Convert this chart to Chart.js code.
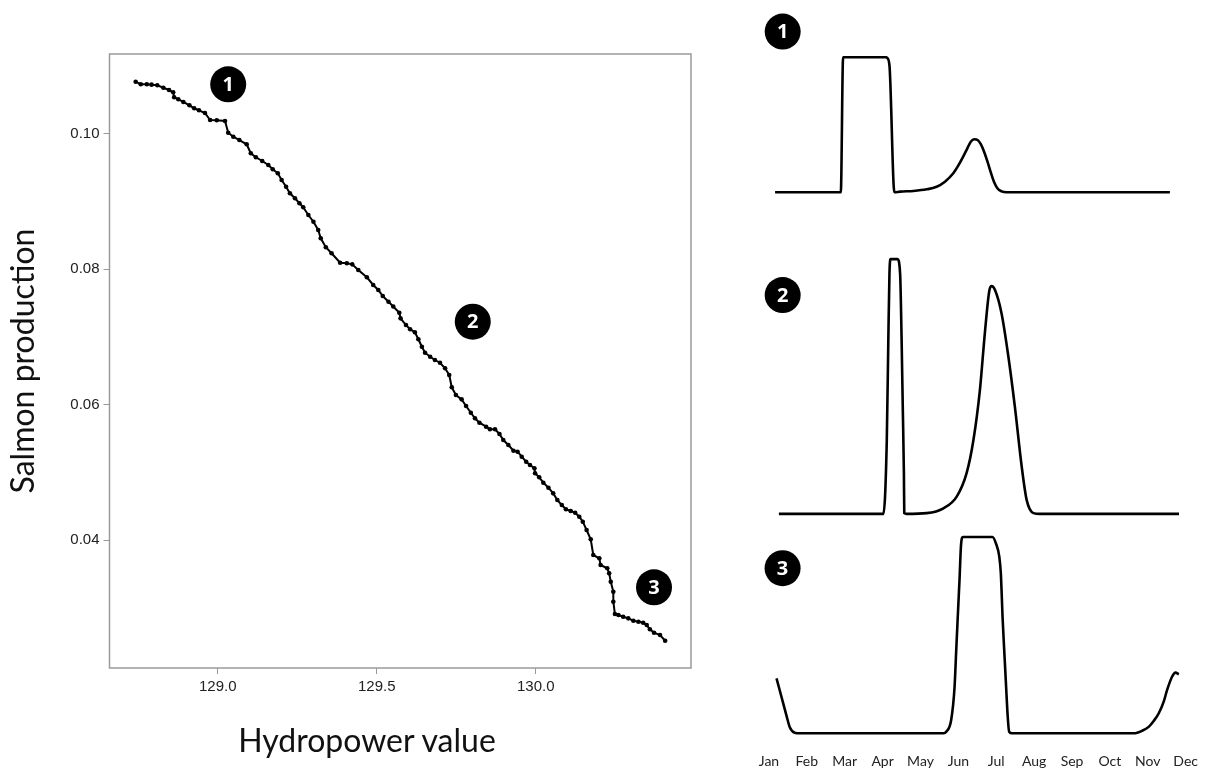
<!DOCTYPE html>
<html lang="en">
<head>
<meta charset="UTF-8">
<title>Salmon production vs hydropower value</title>
<script src="https://cdn.jsdelivr.net/npm/chart.js@4.4.1/dist/chart.umd.min.js"></script>
<style>
    body { margin: 0; background: #fff; }
    .wrap { position: relative; width: 1210px; height: 770px; overflow: hidden; }
    canvas { position: absolute; }
    .x-title {
        position: absolute;
        left: 0;
        width: 734px;
        top: 720px;
        line-height: 40px;
        text-align: center;
        font-family: Lato, sans-serif;
        font-size: 32px;
        color: #111;
    }
</style>
</head>
<body>
<div class="wrap">
    <canvas id="tradeoff" width="720" height="770" style="left:0;top:0"></canvas>
    <canvas id="flow1" width="456" height="215" style="left:750px;top:0"></canvas>
    <canvas id="flow2" width="456" height="320" style="left:750px;top:230px"></canvas>
    <canvas id="flow3" width="456" height="250" style="left:750px;top:520px"></canvas>
    <div class="x-title">Hydropower value</div>
</div>

<script>
    // trade-off curve (left panel)
    const hydroValue = [
        128.742, 128.758, 128.777, 128.792, 128.810, 128.829, 128.847, 128.860, 128.863, 128.876,
        128.892, 128.911, 128.926, 128.941, 128.960, 128.976, 128.997, 129.023, 129.033, 129.049,
        129.068, 129.091, 129.104, 129.120, 129.140, 129.159, 129.173, 129.189, 129.201, 129.215,
        129.227, 129.243, 129.257, 129.269, 129.285, 129.301, 129.316, 129.324, 129.340, 129.358,
        129.385, 129.406, 129.423, 129.442, 129.469, 129.489, 129.505, 129.519, 129.537, 129.552,
        129.571, 129.575, 129.592, 129.605, 129.620, 129.631, 129.642, 129.652, 129.668, 129.683,
        129.699, 129.715, 129.728, 129.736, 129.749, 129.767, 129.781, 129.796, 129.809, 129.823,
        129.844, 129.856, 129.872, 129.886, 129.898, 129.914, 129.930, 129.943, 129.956, 129.970,
        129.982, 129.996, 129.998, 130.011, 130.024, 130.040, 130.055, 130.068, 130.082, 130.095,
        130.110, 130.124, 130.137, 130.148, 130.160, 130.173, 130.181, 130.200, 130.204, 130.225,
        130.231, 130.236, 130.244, 130.244, 130.249, 130.260, 130.275, 130.291, 130.307, 130.323,
        130.338, 130.349, 130.359, 130.372, 130.391, 130.407
    ];
    const salmonProd = [
        0.10773, 0.10734, 0.10734, 0.10729, 0.10720, 0.10684, 0.10650, 0.10616, 0.10542, 0.10513,
        0.10473, 0.10424, 0.10380, 0.10350, 0.10310, 0.10207, 0.10202, 0.10192, 0.10019, 0.09960,
        0.09911, 0.09848, 0.09715, 0.09656, 0.09601, 0.09542, 0.09478, 0.09419, 0.09320, 0.09221,
        0.09124, 0.09050, 0.08976, 0.08917, 0.08803, 0.08704, 0.08581, 0.08459, 0.08326, 0.08237,
        0.08098, 0.08089, 0.08074, 0.07990, 0.07882, 0.07769, 0.07695, 0.07606, 0.07522, 0.07451,
        0.07359, 0.07276, 0.07177, 0.07114, 0.07070, 0.06966, 0.06857, 0.06768, 0.06709, 0.06660,
        0.06620, 0.06538, 0.06439, 0.06257, 0.06143, 0.06079, 0.05980, 0.05881, 0.05799, 0.05734,
        0.05675, 0.05636, 0.05636, 0.05567, 0.05478, 0.05404, 0.05320, 0.05305, 0.05231, 0.05157,
        0.05109, 0.05060, 0.04986, 0.04927, 0.04847, 0.04773, 0.04690, 0.04591, 0.04517, 0.04454,
        0.04429, 0.04404, 0.04345, 0.04271, 0.04148, 0.04011, 0.03779, 0.03730, 0.03631, 0.03582,
        0.03508, 0.03384, 0.03236, 0.03089, 0.02907, 0.02892, 0.02867, 0.02843, 0.02808, 0.02793,
        0.02778, 0.02744, 0.02681, 0.02630, 0.02596, 0.02512
    ];
    const xTicks = [129.0, 129.5, 130.0];
    const xTickLabels = ['129.0', '129.5', '130.0'];
    const yTicks = [0.04, 0.06, 0.08, 0.10];
    const yTickLabels = ['0.04', '0.06', '0.08', '0.10'];

    // highlighted solutions
    const solutionIds = ['1', '2', '3'];
    const solutionX = [129.033, 129.802, 130.372];
    const solutionY = [0.10734, 0.07226, 0.03301];

    // flow regimes (right panels), x = month index (0 = Jan)
    const months = ['Jan', 'Feb', 'Mar', 'Apr', 'May', 'Jun', 'Jul', 'Aug', 'Sep', 'Oct', 'Nov', 'Dec'];

    const flow1Month = [0.16, 1.89, 1.95, 3.08, 3.11, 3.17, 3.30, 3.45, 3.80, 4.15, 4.41, 4.63, 4.85, 4.98,
        5.11, 5.22, 5.31, 5.40, 5.49, 5.57, 5.66, 5.75, 5.83, 5.92, 6.01, 6.12, 6.26, 10.55];
    const flow1Level = [0, 0, 1, 1, 0.995, 0.94, 0, 0.005, 0.01, 0.022, 0.041, 0.079, 0.141, 0.197,
        0.264, 0.326, 0.375, 0.393, 0.387, 0.358, 0.301, 0.227, 0.153, 0.079, 0.03, 0.007, 0, 0];

    const flow2Month = [0.26, 3.01, 3.10, 3.14, 3.17, 3.20, 3.38, 3.45, 3.49, 3.52, 3.55, 3.56, 3.62, 4.15,
        4.59, 4.94, 5.20, 5.38, 5.55, 5.68, 5.80, 5.86, 5.95, 6.12, 6.30, 6.47, 6.65, 6.78, 6.96, 7.13, 10.79];
    const flow2Level = [0, 0, 0.29, 0.682, 0.944, 1, 1, 0.944, 0.682, 0.421, 0.16, 0.003, 0, 0.003,
        0.022, 0.068, 0.16, 0.29, 0.486, 0.709, 0.878, 0.894, 0.878, 0.787, 0.617, 0.421, 0.186, 0.055, 0.003, 0, 0];

    const flow3Month = [0.20, 0.33, 0.47, 0.55, 0.68, 0.82, 4.61, 4.68, 4.81, 4.90, 4.94, 4.98, 5.03, 5.07,
        5.12, 5.90, 5.99, 6.08, 6.12, 6.17, 6.21, 6.26, 6.30, 6.34, 6.42, 9.63, 9.85, 10.03, 10.16, 10.29,
        10.42, 10.51, 10.64, 10.73, 10.82];
    const flow3Level = [0.28, 0.186, 0.085, 0.031, 0.003, 0, 0, 0.008, 0.068, 0.237, 0.408, 0.577, 0.781, 0.959,
        1, 1, 0.968, 0.9, 0.817, 0.577, 0.424, 0.237, 0.093, 0.008, 0, 0, 0.013, 0.034, 0.064, 0.102,
        0.161, 0.221, 0.288, 0.309, 0.301];

    const badgeMonth = 0.36;
    const badgeLevel = [1.19, 0.859, 0.841];

    // black numbered circles, placed in data units
    const badgePlugin = {
        id: 'badges',
        afterDatasetsDraw(chart, args, opts) {
            const items = opts.items || [];
            const {ctx, scales: {x, y}} = chart;
            ctx.save();
            items.forEach(b => {
                const px = x.getPixelForValue(b.x);
                const py = y.getPixelForValue(b.y);
                ctx.beginPath();
                ctx.arc(px, py, 18, 0, Math.PI * 2);
                ctx.fillStyle = '#000';
                ctx.fill();
                ctx.fillStyle = '#fff';
                ctx.font = 'bold 20px "Open Sans"';
                ctx.textAlign = 'center';
                ctx.textBaseline = 'middle';
                ctx.fillText(b.text, px, py + 1);
            });
            ctx.restore();
        }
    };

    const framePlugin = {
        id: 'frame',
        beforeDatasetsDraw(chart) {
            const {ctx, chartArea: a} = chart;
            ctx.save();
            ctx.strokeStyle = '#9a9a9a';
            ctx.lineWidth = 1.5;
            ctx.strokeRect(a.left, a.top, a.right - a.left, a.bottom - a.top);
            ctx.restore();
        }
    };

    new Chart(document.getElementById('tradeoff'), {
        type: 'scatter',
        data: {
            datasets: [{
                data: hydroValue.map((v, i) => ({x: v, y: salmonProd[i]})),
                showLine: true,
                borderColor: '#000',
                backgroundColor: '#000',
                borderWidth: 2,
                pointRadius: 2.3,
                pointBorderWidth: 0
            }]
        },
        options: {
            responsive: false,
            animation: false,
            events: [],
            layout: {padding: {top: 54, right: 29, left: 0, bottom: 0}},
            plugins: {
                legend: {display: false},
                tooltip: {enabled: false},
                badges: {items: solutionIds.map((t, i) => ({text: t, x: solutionX[i], y: solutionY[i]}))}
            },
            scales: {
                x: {
                    type: 'linear',
                    min: 128.6597,
                    max: 130.4883,
                    afterFit: s => { s.height = 102; },
                    afterBuildTicks: s => { s.ticks = xTicks.map(v => ({value: v})); },
                    ticks: {
                        callback: (v, i) => xTickLabels[i],
                        font: {family: '"Liberation Sans"', size: 15},
                        color: '#222',
                        padding: 4,
                        maxRotation: 0
                    },
                    grid: {drawOnChartArea: false, tickLength: 6, color: '#999'},
                    border: {display: false}
                },
                y: {
                    type: 'linear',
                    min: 0.02109,
                    max: 0.11182,
                    afterFit: s => { s.width = 109.5; },
                    afterBuildTicks: s => { s.ticks = yTicks.map(v => ({value: v})); },
                    ticks: {
                        callback: (v, i) => yTickLabels[i],
                        font: {family: '"Liberation Sans"', size: 15},
                        color: '#222',
                        padding: 4
                    },
                    grid: {drawOnChartArea: false, tickLength: 6, color: '#999'},
                    border: {display: false},
                    title: {
                        display: true,
                        text: 'Salmon production',
                        font: {family: 'Lato', size: 32},
                        color: '#111',
                        padding: {top: 4, bottom: 0}
                    }
                }
            }
        },
        plugins: [framePlugin, badgePlugin]
    });

    function flowChart(id, monthVals, levelVals, yMin, yMax, padding, showMonths, badgeText, badgeY) {
        return new Chart(document.getElementById(id), {
            type: 'line',
            data: {
                datasets: [{
                    data: monthVals.map((m, i) => ({x: m, y: levelVals[i]})),
                    borderColor: '#000',
                    borderWidth: 2.6,
                    pointRadius: 0,
                    cubicInterpolationMode: 'monotone',
                    fill: false
                }]
            },
            options: {
                responsive: false,
                animation: false,
                events: [],
                layout: {padding: padding},
                plugins: {
                    legend: {display: false},
                    tooltip: {enabled: false},
                    badges: {items: [{text: badgeText, x: badgeMonth, y: badgeY}]}
                },
                scales: {
                    x: {
                        type: 'linear',
                        min: -0.5,
                        max: 11.5,
                        display: showMonths,
                        afterFit: s => { if (showMonths) s.height = 25; },
                        afterBuildTicks: s => { s.ticks = months.map((m, i) => ({value: i})); },
                        ticks: {
                            callback: (v, i) => months[i],
                            autoSkip: false,
                            maxRotation: 0,
                            padding: 8,
                            font: {family: 'Lato', size: 14},
                            color: '#222'
                        },
                        grid: {display: false, drawTicks: false},
                        border: {display: false}
                    },
                    y: {type: 'linear', display: false, min: yMin, max: yMax}
                }
            },
            plugins: [badgePlugin]
        });
    }

    flowChart('flow1', flow1Month, flow1Level, -0.131, 1.276, {top: 20, bottom: 5, left: 0, right: 0}, false, '1', badgeLevel[0]);
    flowChart('flow2', flow2Month, flow2Level, -0.122, 1.075, {top: 10, bottom: 5, left: 0, right: 0}, false, '2', badgeLevel[1]);
    flowChart('flow3', flow3Month, flow3Level, -0.0596, 1.061, {top: 5, bottom: 0, left: 0, right: 0}, true, '3', badgeLevel[2]);
</script>
</body>
</html>
